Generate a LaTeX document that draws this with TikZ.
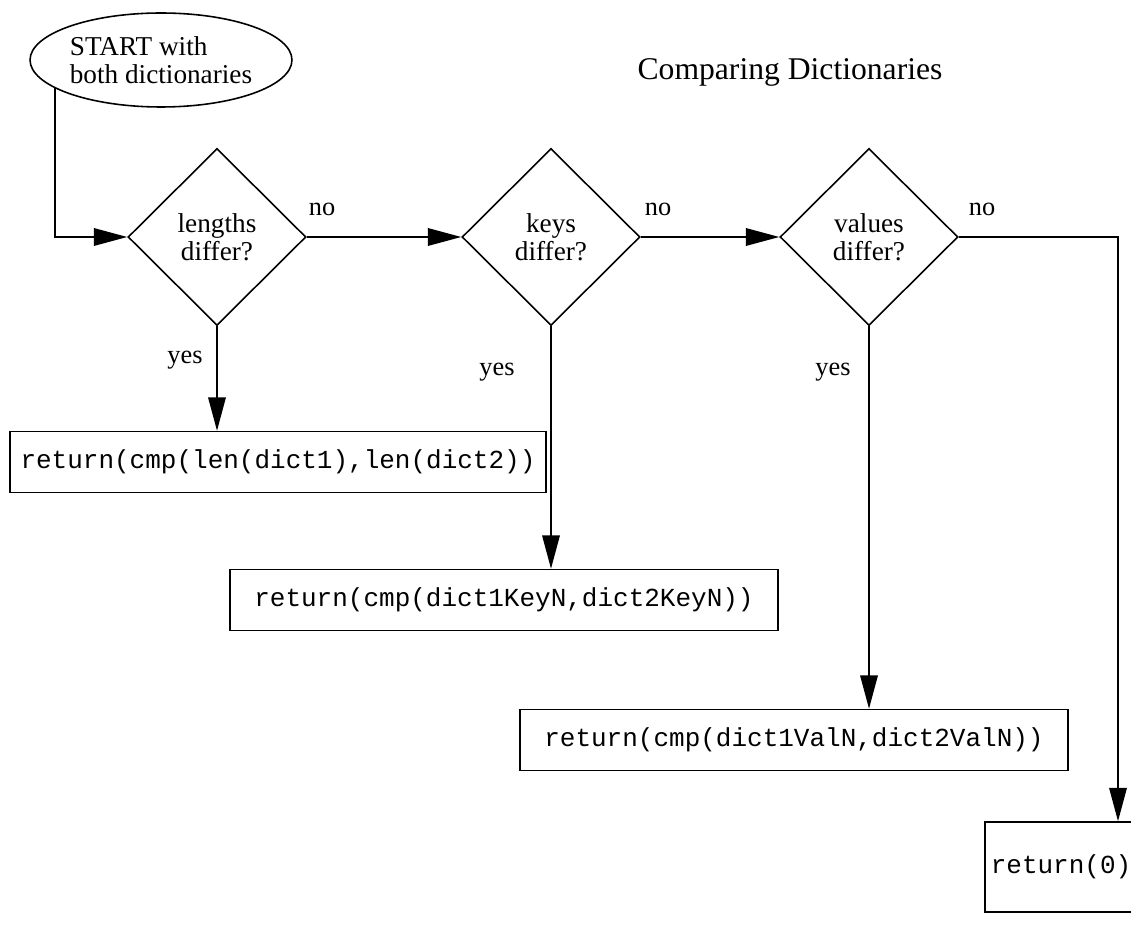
\documentclass[tikz,border=0pt]{standalone}
\usepackage{fontspec}
\setmainfont{Liberation Serif}
\setmonofont{Liberation Mono}
\usetikzlibrary{shapes.geometric,arrows.meta}

\begin{document}
\begin{tikzpicture}[x=0.02cm,y=-0.02cm,line width=0.9pt,
    >={Triangle[length=19pt,width=10pt]},
    decision/.style={draw,diamond,minimum width=3.56cm,minimum height=3.54cm,
      inner sep=0pt,align=center,font=\fontsize{15.5}{16}\selectfont},
    retbox/.style={draw,rectangle,minimum width=10.96cm,minimum height=1.22cm,
      inner sep=2pt,font=\fontsize{14.8}{16}\ttfamily},
    lbl/.style={font=\fontsize{15}{16}\selectfont}]
      \useasboundingbox (0,0) rectangle (1131,935);
      \node [draw,ellipse,minimum width=5.24cm,minimum height=1.88cm,inner sep=0pt,
        align=left,font=\fontsize{15.5}{16}\selectfont] (start) at (161,60)
        {START with\\both dictionaries};
      \node [font=\fontsize{18}{20}\selectfont] (title) at (790,72) {Comparing Dictionaries};
      \node [decision] (lenq) at (217,237) {lengths\\differ?};
      \node [decision] (keyq) at (551,237) {keys\\differ?};
      \node [decision] (valq) at (869,237) {values\\differ?};
      \node [retbox,minimum width=10.72cm] (lenret) at (278,462) {return(cmp(len(dict1),len(dict2))};
      \node [retbox] (keyret) at (504,600) {return(cmp(dict1KeyN,dict2KeyN))};
      \node [retbox] (valret) at (794,740) {return(cmp(dict1ValN,dict2ValN))};
      \node [retbox,minimum width=3.04cm,minimum height=1.8cm] (zeroret) at (1061,867) {return(0)};
      \node [lbl] (no1) at (322,209) {no};
      \node [lbl] (no2) at (658,209) {no};
      \node [lbl] (no3) at (982,209) {no};
      \node [lbl] (yes1) at (185,360) {yes};
      \node [lbl] (yes2) at (497,372) {yes};
      \node [lbl] (yes3) at (833,372) {yes};
      \coordinate (bend) at (1118,237);
      \draw [->] (start.195) |- (lenq.west);
      \draw [->] (lenq.east) -- (keyq.west);
      \draw [->] (keyq.east) -- (valq.west);
      \draw [->] (valq.east) -- (bend) -- (bend |- zeroret.north);
      \draw [->] (lenq.south) -- (lenq.south |- lenret.north);
      \draw [->] (keyq.south) -- (keyq.south |- keyret.north);
      \draw [->] (valq.south) -- (valq.south |- valret.north);
    \end{tikzpicture}
\end{document}
